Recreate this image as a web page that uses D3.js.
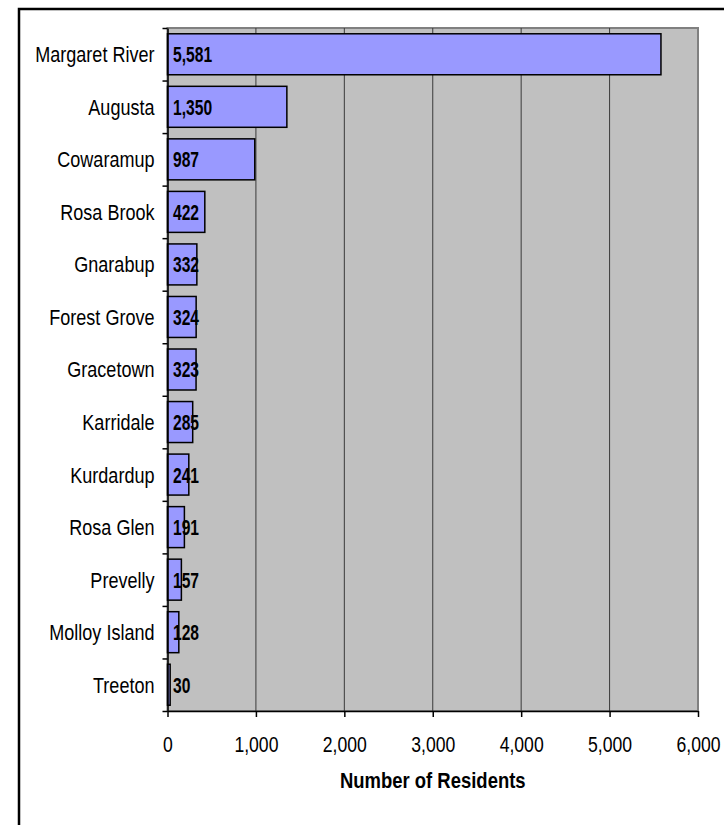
<!DOCTYPE html>
<html lang="en">
<head>
  <meta charset="UTF-8" />
  <title>Number of Residents</title>
  <script src="https://d3js.org/d3.v7.min.js"></script>
  <style>
    body { margin: 0; background: #fff; }
    svg { display: block; font-family: "Liberation Sans", Arial, sans-serif; }
    .domain { stroke: #000; stroke-width: 1.5; }
  </style>
</head>
<body>
  <svg width="724" height="825"></svg>
  <script>
    const towns = ["Margaret River", "Augusta", "Cowaramup", "Rosa Brook", "Gnarabup",
      "Forest Grove", "Gracetown", "Karridale", "Kurdardup", "Rosa Glen",
      "Prevelly", "Molloy Island", "Treeton"];
    const residents = [5581, 1350, 987, 422, 332, 324, 323, 285, 241, 191, 157, 128, 30];
    const xTicks = [0, 1000, 2000, 3000, 4000, 5000, 6000];
    const axisTitle = "Number of Residents";

    const svg = d3.select("svg");
    const margin = { top: 28, left: 167.5 };
    const width = 530.5, height = 683;
    const fmt = d3.format(",");

    // outer chart border (runs off the right and bottom edge)
    svg.append("rect")
      .attr("x", 19).attr("y", 9)
      .attr("width", 800).attr("height", 900)
      .attr("fill", "#fff").attr("stroke", "#000").attr("stroke-width", 2.5);

    const g = svg.append("g").attr("transform", `translate(${margin.left},${margin.top})`);

    const x = d3.scaleLinear().domain([0, 6000]).range([0, width]);
    const y = d3.scaleBand().domain(towns).range([0, height])
      .paddingInner(0.22).paddingOuter(0.11);
    const yEdge = d3.scaleLinear().domain([0, towns.length]).range([0, height]);

    g.append("rect")
      .attr("width", width).attr("height", height)
      .attr("fill", "#c0c0c0").attr("stroke", "#808080").attr("stroke-width", 2);

    // vertical gridlines
    g.append("g")
      .selectAll("line")
      .data(xTicks.slice(1, -1))
      .join("line")
      .attr("x1", d => x(d)).attr("x2", d => x(d))
      .attr("y1", 0).attr("y2", height)
      .attr("stroke", "#3a3a3a").attr("stroke-width", 1);

    // bars
    g.selectAll(".bar")
      .data(residents)
      .join("rect")
      .attr("class", "bar")
      .attr("x", x(0))
      .attr("y", (d, i) => y(towns[i]))
      .attr("width", d => x(d) - x(0))
      .attr("height", y.bandwidth())
      .attr("fill", "#9999ff")
      .attr("stroke", "#000")
      .attr("stroke-width", 1.5);

    // value labels at the base of each bar
    g.selectAll(".val")
      .data(residents)
      .join("text")
      .attr("class", "val")
      .attr("transform", (d, i) => `translate(${x(0) + 5.5},${y(towns[i]) + y.bandwidth() / 2}) scale(0.71,1)`)
      .attr("dy", "0.36em")
      .attr("font-size", 22)
      .attr("font-weight", "bold")
      .text(d => fmt(d));

    // x axis
    const xAxis = g.append("g")
      .attr("transform", `translate(0,${height})`)
      .call(d3.axisBottom(x).tickValues(xTicks).tickSize(6).tickSizeOuter(0).tickFormat(fmt));
    xAxis.selectAll(".tick line").attr("stroke-width", 1.5);
    xAxis.selectAll(".tick text")
      .attr("font-size", 22).attr("fill", "#000")
      .attr("y", 0).attr("dy", 0)
      .attr("transform", "translate(0,41) scale(0.8,1)");

    // y axis: ticks on category boundaries, labels on band centres
    const yTicks = g.append("g")
      .call(d3.axisLeft(yEdge).tickValues(d3.range(towns.length + 1)).tickSize(5).tickSizeOuter(0).tickFormat(""));
    yTicks.selectAll(".tick line").attr("stroke-width", 1.5);

    const yLabels = g.append("g")
      .call(d3.axisLeft(y).tickSize(0));
    yLabels.select(".domain").remove();
    yLabels.selectAll(".tick text")
      .attr("font-size", 22).attr("fill", "#000")
      .attr("x", 0).attr("dy", "0.36em")
      .attr("transform", "translate(-13,0) scale(0.82,1)");

    // axis title
    svg.append("text")
      .attr("transform", `translate(${margin.left + width / 2},788) scale(0.84,1)`)
      .attr("text-anchor", "middle")
      .attr("font-size", 22)
      .attr("font-weight", "bold")
      .text(axisTitle);
  </script>
</body>
</html>
